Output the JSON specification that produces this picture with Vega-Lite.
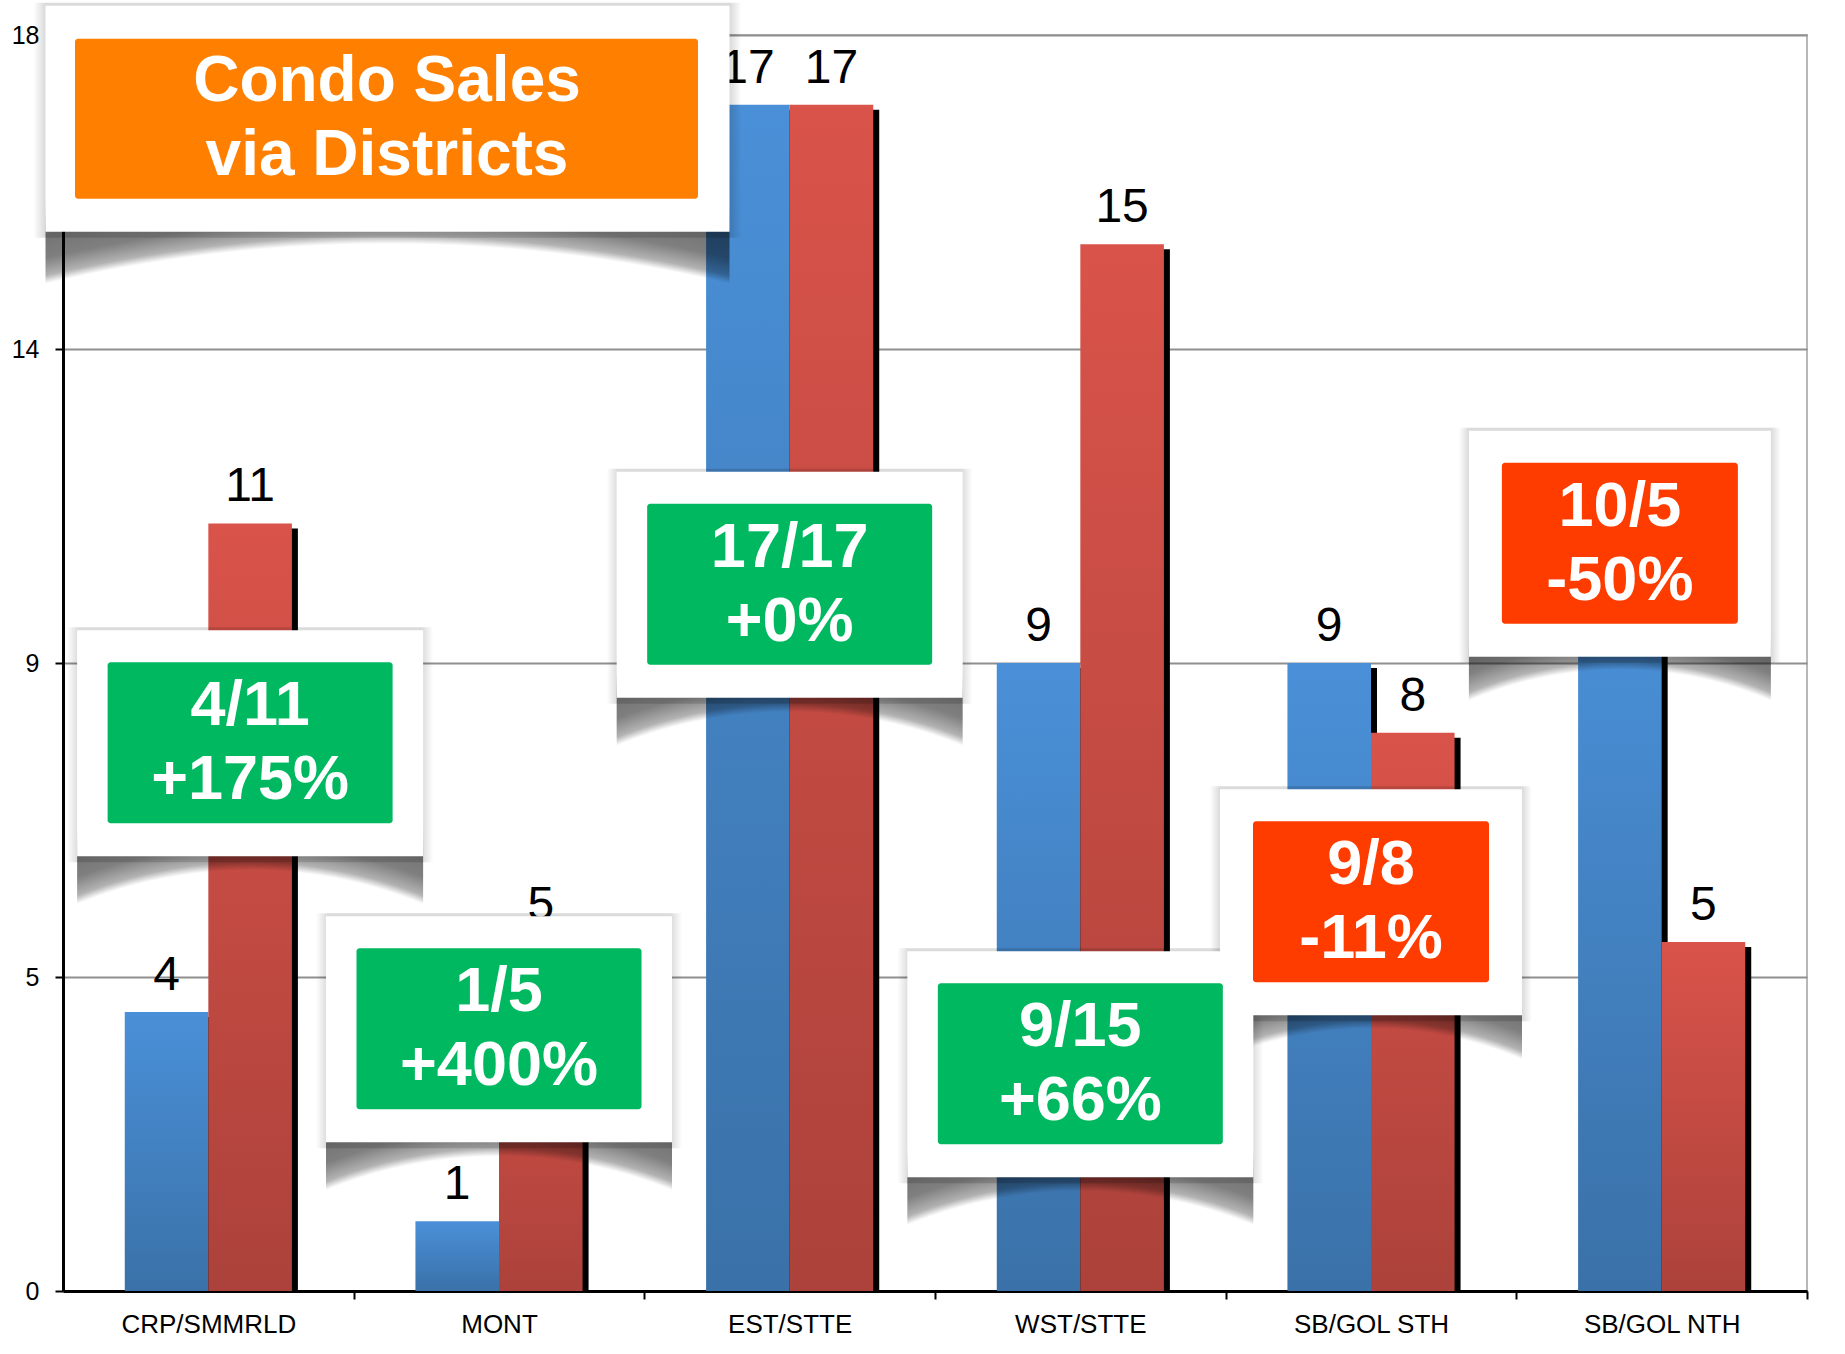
{
  "$schema": "https://vega.github.io/schema/vega-lite/v6.json",
  "width": 1744,
  "height": 1256,
  "autosize": {"type": "none"},
  "padding": {"left": 63, "top": 35, "right": 38, "bottom": 63},
  "background": "white",
  "config": {
    "view": {"stroke": "#b8b8b8", "strokeWidth": 2},
    "font": "Liberation Sans",
    "axisX": {
      "labelAngle": 0, "labelFont": "Liberation Sans", "labelFontSize": 26, "labelColor": "#000000",
      "labelPadding": 12, "domainColor": "#000000", "domainWidth": 3, "tickColor": "#000000", "tickWidth": 2,
      "tickSize": 8, "zindex": 1, "grid": false
    },
    "axisY": {
      "labelFont": "Liberation Sans", "labelFontSize": 25, "labelColor": "#000000", "labelPadding": 16,
      "domainColor": "#000000", "domainWidth": 3, "tickColor": "#000000", "tickWidth": 2, "tickSize": 8,
      "grid": true, "gridColor": "#8f8f8f", "gridWidth": 2
    }
  },
  "datasets": {
    "sales": [
      {"district": "CRP/SMMRLD", "series": "prev", "value": 4},
      {"district": "CRP/SMMRLD", "series": "curr", "value": 11},
      {"district": "MONT", "series": "prev", "value": 1},
      {"district": "MONT", "series": "curr", "value": 5},
      {"district": "EST/STTE", "series": "prev", "value": 17},
      {"district": "EST/STTE", "series": "curr", "value": 17},
      {"district": "WST/STTE", "series": "prev", "value": 9},
      {"district": "WST/STTE", "series": "curr", "value": 15},
      {"district": "SB/GOL STH", "series": "prev", "value": 9},
      {"district": "SB/GOL STH", "series": "curr", "value": 8},
      {"district": "SB/GOL NTH", "series": "prev", "value": 10},
      {"district": "SB/GOL NTH", "series": "curr", "value": 5}
    ],
    "callouts": [
      {"district": "CRP/SMMRLD", "anchor": "curr", "level": 7.85, "ratio": "4/11", "change": "+175%", "trend": "up"},
      {"district": "MONT", "anchor": "mid", "level": 3.75, "ratio": "1/5", "change": "+400%", "trend": "up"},
      {"district": "EST/STTE", "anchor": "mid", "level": 10.12, "ratio": "17/17", "change": "+0%", "trend": "up"},
      {"district": "WST/STTE", "anchor": "mid", "level": 3.25, "ratio": "9/15", "change": "+66%", "trend": "up"},
      {"district": "SB/GOL STH", "anchor": "mid", "level": 5.57, "ratio": "9/8", "change": "-11%", "trend": "down"},
      {"district": "SB/GOL NTH", "anchor": "prev", "level": 10.71, "ratio": "10/5", "change": "-50%", "trend": "down"}
    ],
    "heading": [{"line1": "Condo Sales", "line2": "via Districts"}]
  },
  "layer": [
    {
      "data": {"name": "sales"},
      "transform": [{"filter": "datum.series === 'prev'"}],
      "mark": {"type": "rule", "color": "#000000", "strokeWidth": 12, "strokeCap": "butt", "yOffset": 5},
      "encoding": {
        "x": {"field": "district", "type": "nominal", "bandPosition": 0.5, "axis": {"title": null}},
        "y": {"field": "value", "type": "quantitative", "axis": {"title": null}},
        "y2": {"datum": 0}
      }
    },
    {
      "data": {"name": "sales"},
      "transform": [{"filter": "datum.series === 'curr'"}],
      "mark": {"type": "rule", "color": "#000000", "strokeWidth": 12, "strokeCap": "butt", "yOffset": 5},
      "encoding": {
        "x": {"field": "district", "type": "nominal", "bandPosition": 1, "axis": {"title": null}},
        "y": {"field": "value", "type": "quantitative", "axis": {"title": null}},
        "y2": {"datum": 0}
      }
    },
    {
      "data": {"name": "sales"},
      "encoding": {
        "x": {
          "field": "district", "type": "nominal", "sort": null,
          "scale": {"domain": ["CRP/SMMRLD", "MONT", "EST/STTE", "WST/STTE", "SB/GOL STH", "SB/GOL NTH"], "paddingInner": 0.425, "paddingOuter": 0.2125},
          "axis": {"title": null, "bandPosition": 1, "tickOffset": 61.8, "labelOffset": -61.8}
        },
        "xOffset": {"field": "series", "type": "nominal", "scale": {"domain": ["prev", "curr"], "paddingInner": 0, "paddingOuter": 0}},
        "y": {
          "field": "value", "type": "quantitative",
          "scale": {"domain": [0, 18], "nice": false, "zero": true},
          "axis": {"title": null, "values": [0, 4.5, 9, 13.5, 18], "format": ".0f"}
        }
      },
      "layer": [
        {
          "transform": [{"filter": "datum.series === 'prev'"}],
          "mark": {"type": "bar", "color": {"gradient": "linear", "x1": 0, "y1": 0, "x2": 0, "y2": 1, "stops": [{"offset": 0, "color": "#4a90d8"}, {"offset": 1, "color": "#3a71a8"}]}}
        },
        {
          "transform": [{"filter": "datum.series === 'curr'"}],
          "mark": {"type": "bar", "color": {"gradient": "linear", "x1": 0, "y1": 0, "x2": 0, "y2": 1, "stops": [{"offset": 0, "color": "#d9534a"}, {"offset": 1, "color": "#ac423b"}]}}
        }
      ]
    },
    {
      "data": {"name": "sales"},
      "transform": [{"filter": "!(datum.district === 'SB/GOL NTH' && datum.series === 'prev')"}],
      "mark": {"type": "text", "fontSize": 48, "font": "Liberation Sans", "color": "#000000", "baseline": "alphabetic", "align": "center", "dy": -22},
      "encoding": {
        "x": {"field": "district", "type": "nominal", "axis": {"title": null}},
        "xOffset": {"field": "series", "type": "nominal"},
        "y": {"field": "value", "type": "quantitative", "axis": {"title": null}},
        "text": {"field": "value", "type": "quantitative"}
      }
    },
    {
      "data": {"name": "callouts"},
      "transform": [{"filter": "datum.anchor === 'mid'"}],
      "encoding": {
        "x": {"field": "district", "type": "nominal", "axis": {"title": null}},
        "y": {"field": "level", "type": "quantitative", "axis": {"title": null}}
      },
      "layer": [
        {
          "mark": {"type": "bar", "yOffset": -116, "y2Offset": 119, "color": {"gradient": "linear", "x1": 0, "y1": 0, "x2": 1, "y2": 0, "stops": [{"offset": 0, "color": "rgba(0,0,0,0)"}, {"offset": 0.03, "color": "rgba(0,0,0,0.14)"}, {"offset": 0.97, "color": "rgba(0,0,0,0.14)"}, {"offset": 1, "color": "rgba(0,0,0,0)"}]}},
          "encoding": {"y2": {"field": "level"}, "size": {"condition": {"test": "datum.trend === 'down'", "value": 322}, "value": 366}}
        },
        {
          "mark": {"type": "bar", "yOffset": -113, "y2Offset": 163},
          "encoding": {
            "y2": {"field": "level"},
            "size": {"condition": {"test": "datum.trend === 'down'", "value": 302}, "value": 346},
            "color": {
              "condition": {"test": "datum.trend === 'down'", "value": {"gradient": "radial", "x1": 0.5, "y1": 2.104, "r1": 0, "x2": 0.5, "y2": 2.104, "r2": 2.119, "stops": [{"offset": 0, "color": "rgba(0,0,0,0)"}, {"offset": 0.599, "color": "rgba(0,0,0,0)"}, {"offset": 0.611, "color": "rgba(0,0,0,0.3)"}, {"offset": 0.638, "color": "rgba(0,0,0,0.5)"}, {"offset": 0.664, "color": "rgba(0,0,0,0.55)"}, {"offset": 0.7, "color": "rgba(0,0,0,0)"}, {"offset": 1, "color": "rgba(0,0,0,0)"}]}},
              "value": {"gradient": "radial", "x1": 0.5, "y1": 2.116, "r1": 0, "x2": 0.5, "y2": 2.116, "r2": 2.081, "stops": [{"offset": 0, "color": "rgba(0,0,0,0)"}, {"offset": 0.635, "color": "rgba(0,0,0,0)"}, {"offset": 0.646, "color": "rgba(0,0,0,0.3)"}, {"offset": 0.67, "color": "rgba(0,0,0,0.5)"}, {"offset": 0.699, "color": "rgba(0,0,0,0.55)"}, {"offset": 0.732, "color": "rgba(0,0,0,0)"}, {"offset": 1, "color": "rgba(0,0,0,0)"}]}
            }
          }
        },
        {
          "mark": {"type": "bar", "yOffset": -113, "y2Offset": 113, "color": "#ffffff"},
          "encoding": {"y2": {"field": "level"}, "size": {"condition": {"test": "datum.trend === 'down'", "value": 302}, "value": 346}}
        },
        {
          "mark": {"type": "bar", "yOffset": -81, "y2Offset": 80, "cornerRadius": 3},
          "encoding": {
            "y2": {"field": "level"},
            "size": {"condition": {"test": "datum.trend === 'down'", "value": 236}, "value": 285},
            "color": {"condition": {"test": "datum.trend === 'down'", "value": "#ff3c00"}, "value": "#00b860"}
          }
        },
        {
          "mark": {"type": "text", "font": "Liberation Sans", "fontWeight": "bold", "fontSize": 63, "color": "#ffffff", "align": "center", "baseline": "alphabetic", "dy": -18},
          "encoding": {"text": {"field": "ratio", "type": "nominal"}}
        },
        {
          "mark": {"type": "text", "font": "Liberation Sans", "fontWeight": "bold", "fontSize": 63, "color": "#ffffff", "align": "center", "baseline": "alphabetic", "dy": 56},
          "encoding": {"text": {"field": "change", "type": "nominal"}}
        }
      ]
    },
    {
      "data": {"name": "callouts"},
      "transform": [{"filter": "datum.anchor !== 'mid'"}],
      "encoding": {
        "x": {"field": "district", "type": "nominal", "axis": {"title": null}},
        "xOffset": {"field": "anchor", "type": "nominal"},
        "y": {"field": "level", "type": "quantitative", "axis": {"title": null}}
      },
      "layer": [
        {
          "mark": {"type": "bar", "yOffset": -116, "y2Offset": 119, "color": {"gradient": "linear", "x1": 0, "y1": 0, "x2": 1, "y2": 0, "stops": [{"offset": 0, "color": "rgba(0,0,0,0)"}, {"offset": 0.03, "color": "rgba(0,0,0,0.14)"}, {"offset": 0.97, "color": "rgba(0,0,0,0.14)"}, {"offset": 1, "color": "rgba(0,0,0,0)"}]}},
          "encoding": {"y2": {"field": "level"}, "size": {"condition": {"test": "datum.trend === 'down'", "value": 322}, "value": 366}}
        },
        {
          "mark": {"type": "bar", "yOffset": -113, "y2Offset": 163},
          "encoding": {
            "y2": {"field": "level"},
            "size": {"condition": {"test": "datum.trend === 'down'", "value": 302}, "value": 346},
            "color": {
              "condition": {"test": "datum.trend === 'down'", "value": {"gradient": "radial", "x1": 0.5, "y1": 2.104, "r1": 0, "x2": 0.5, "y2": 2.104, "r2": 2.119, "stops": [{"offset": 0, "color": "rgba(0,0,0,0)"}, {"offset": 0.599, "color": "rgba(0,0,0,0)"}, {"offset": 0.611, "color": "rgba(0,0,0,0.3)"}, {"offset": 0.638, "color": "rgba(0,0,0,0.5)"}, {"offset": 0.664, "color": "rgba(0,0,0,0.55)"}, {"offset": 0.7, "color": "rgba(0,0,0,0)"}, {"offset": 1, "color": "rgba(0,0,0,0)"}]}},
              "value": {"gradient": "radial", "x1": 0.5, "y1": 2.116, "r1": 0, "x2": 0.5, "y2": 2.116, "r2": 2.081, "stops": [{"offset": 0, "color": "rgba(0,0,0,0)"}, {"offset": 0.635, "color": "rgba(0,0,0,0)"}, {"offset": 0.646, "color": "rgba(0,0,0,0.3)"}, {"offset": 0.67, "color": "rgba(0,0,0,0.5)"}, {"offset": 0.699, "color": "rgba(0,0,0,0.55)"}, {"offset": 0.732, "color": "rgba(0,0,0,0)"}, {"offset": 1, "color": "rgba(0,0,0,0)"}]}
            }
          }
        },
        {
          "mark": {"type": "bar", "yOffset": -113, "y2Offset": 113, "color": "#ffffff"},
          "encoding": {"y2": {"field": "level"}, "size": {"condition": {"test": "datum.trend === 'down'", "value": 302}, "value": 346}}
        },
        {
          "mark": {"type": "bar", "yOffset": -81, "y2Offset": 80, "cornerRadius": 3},
          "encoding": {
            "y2": {"field": "level"},
            "size": {"condition": {"test": "datum.trend === 'down'", "value": 236}, "value": 285},
            "color": {"condition": {"test": "datum.trend === 'down'", "value": "#ff3c00"}, "value": "#00b860"}
          }
        },
        {
          "mark": {"type": "text", "font": "Liberation Sans", "fontWeight": "bold", "fontSize": 63, "color": "#ffffff", "align": "center", "baseline": "alphabetic", "dy": -18},
          "encoding": {"text": {"field": "ratio", "type": "nominal"}}
        },
        {
          "mark": {"type": "text", "font": "Liberation Sans", "fontWeight": "bold", "fontSize": 63, "color": "#ffffff", "align": "center", "baseline": "alphabetic", "dy": 56},
          "encoding": {"text": {"field": "change", "type": "nominal"}}
        }
      ]
    },
    {
      "data": {"name": "heading"},
      "encoding": {
        "x": {"datum": "MONT", "type": "nominal", "axis": {"title": null}},
        "y": {"datum": 16.8, "type": "quantitative", "axis": {"title": null}}
      },
      "layer": [
        {
          "mark": {"type": "bar", "width": 708, "xOffset": -111.5, "yOffset": -116, "y2Offset": 119, "color": {"gradient": "linear", "x1": 0, "y1": 0, "x2": 1, "y2": 0, "stops": [{"offset": 0, "color": "rgba(0,0,0,0)"}, {"offset": 0.016, "color": "rgba(0,0,0,0.14)"}, {"offset": 0.984, "color": "rgba(0,0,0,0.14)"}, {"offset": 1, "color": "rgba(0,0,0,0)"}]}},
          "encoding": {"y2": {"datum": 16.8}}
        },
        {
          "mark": {"type": "bar", "width": 684, "xOffset": -111.5, "yOffset": -113, "y2Offset": 173, "color": {"gradient": "radial", "x1": 0.5, "y1": 2.8056, "r1": 0, "x2": 0.5, "y2": 2.8056, "r2": 2.5439, "stops": [{"offset": 0, "color": "rgba(0,0,0,0)"}, {"offset": 0.8517, "color": "rgba(0,0,0,0)"}, {"offset": 0.8563, "color": "rgba(0,0,0,0.3)"}, {"offset": 0.8661, "color": "rgba(0,0,0,0.5)"}, {"offset": 0.8793, "color": "rgba(0,0,0,0.55)"}, {"offset": 0.8977, "color": "rgba(0,0,0,0)"}, {"offset": 1, "color": "rgba(0,0,0,0)"}]}},
          "encoding": {"y2": {"datum": 16.8}}
        },
        {
          "mark": {"type": "bar", "width": 684, "xOffset": -111.5, "yOffset": -113, "y2Offset": 113, "color": "#ffffff"},
          "encoding": {"y2": {"datum": 16.8}}
        },
        {
          "mark": {"type": "bar", "width": 623, "xOffset": -112.5, "yOffset": -80, "y2Offset": 80, "cornerRadius": 3, "color": "#ff7f00"},
          "encoding": {"y2": {"datum": 16.8}}
        },
        {
          "mark": {"type": "text", "font": "Liberation Sans", "fontWeight": "bold", "fontSize": 64, "color": "#ffffff", "align": "center", "baseline": "alphabetic", "xOffset": -112, "dy": -18},
          "encoding": {"text": {"field": "line1", "type": "nominal"}}
        },
        {
          "mark": {"type": "text", "font": "Liberation Sans", "fontWeight": "bold", "fontSize": 64, "color": "#ffffff", "align": "center", "baseline": "alphabetic", "xOffset": -112, "dy": 56},
          "encoding": {"text": {"field": "line2", "type": "nominal"}}
        }
      ]
    }
  ]
}
